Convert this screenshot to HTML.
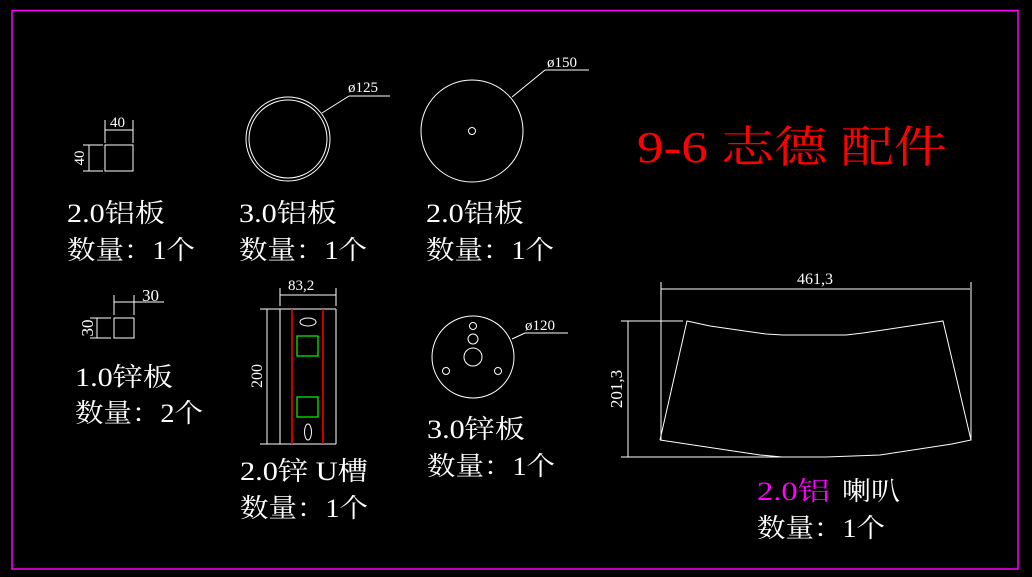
<!DOCTYPE html>
<html><head><meta charset="utf-8"><style>
html,body{margin:0;padding:0;background:#000;}
svg{display:block}
text{font-family:"Liberation Serif","Noto Serif CJK SC",serif;fill:#fff}
</style></head><body>
<svg width="1032" height="577" viewBox="0 0 1032 577" xmlns="http://www.w3.org/2000/svg">
<rect x="0" y="0" width="1032" height="577" fill="#000"/>
<rect x="12" y="10.5" width="1006" height="558.5" fill="none" stroke="#ff00ff" stroke-width="1.5"/>
<g stroke="#fff" stroke-width="1" fill="none">
<!-- box 40 -->
<rect x="105" y="145" width="28" height="26"/>
<line x1="105" y1="120" x2="105" y2="143"/><line x1="133" y1="120" x2="133" y2="143"/>
<line x1="105" y1="130" x2="133" y2="130"/>
<line x1="83" y1="145" x2="103" y2="145"/><line x1="83" y1="171" x2="103" y2="171"/>
<line x1="89" y1="145" x2="89" y2="171"/>
<!-- circle 125 -->
<circle cx="288" cy="139" r="42"/><circle cx="288" cy="139" r="39"/>
<line x1="322" y1="113" x2="349" y2="96"/><line x1="349" y1="96" x2="390" y2="96"/>
<!-- circle 150 -->
<circle cx="472" cy="131" r="51"/><circle cx="472" cy="131" r="3.5"/>
<line x1="512" y1="97" x2="545" y2="70"/><line x1="545" y1="70" x2="589" y2="70"/>
<!-- box 30 -->
<rect x="114" y="318" width="20" height="20"/>
<line x1="114" y1="295" x2="114" y2="315"/><line x1="134" y1="295" x2="134" y2="315"/>
<line x1="114" y1="302" x2="164" y2="302"/>
<line x1="90" y1="318" x2="111" y2="318"/><line x1="90" y1="338" x2="111" y2="338"/>
<line x1="97" y1="318" x2="97" y2="338"/>
<!-- U channel -->
<line x1="260" y1="309" x2="336" y2="309"/><line x1="260" y1="444" x2="336" y2="444"/>
<line x1="280" y1="309" x2="280" y2="444"/><line x1="336" y1="309" x2="336" y2="444"/>
<line x1="267" y1="309" x2="267" y2="444"/>
<line x1="280" y1="288" x2="280" y2="306"/><line x1="336" y1="288" x2="336" y2="306"/>
<line x1="280" y1="295" x2="336" y2="295"/>
<ellipse cx="308" cy="322" rx="8" ry="4"/>
<ellipse cx="308" cy="432" rx="3.5" ry="8"/>
<!-- plate 120 -->
<circle cx="473" cy="357" r="41"/>
<circle cx="473" cy="326" r="3.5"/><circle cx="473" cy="339" r="5"/><circle cx="473" cy="357" r="9"/>
<circle cx="446" cy="371" r="3.5"/><circle cx="498" cy="371" r="3.5"/>
<line x1="512" y1="339" x2="525" y2="333"/><line x1="525" y1="333" x2="568" y2="333"/>
<!-- horn -->
<line x1="661" y1="289" x2="970" y2="289"/>
<line x1="661" y1="282" x2="661" y2="440"/><line x1="971" y1="282" x2="971" y2="440"/>
<polyline points="660,440 687,321 710,326 766,334 783,335 846,335 863,333 943,321 971,440 952,444 880,455 826,457 782,457 760,455 660,440"/>
<line x1="628" y1="321" x2="628" y2="457"/>
<line x1="621" y1="321" x2="683" y2="321"/><line x1="621" y1="457" x2="826" y2="457"/>
</g>
<g stroke="#ff0000" stroke-width="1.5">
<line x1="292" y1="309" x2="292" y2="444"/><line x1="323" y1="309" x2="323" y2="444"/>
</g>
<g stroke="#00ff00" stroke-width="1.2" fill="none">
<rect x="297" y="336" width="21" height="20"/><rect x="297" y="397" width="21" height="20"/>
</g>
<!-- small dim text -->
<g font-size="15">
<text x="110" y="127">40</text>
<text x="0" y="0" transform="translate(84,158) rotate(-90)" text-anchor="middle">40</text>
<text x="348" y="92">ø125</text>
<text x="547" y="67">ø150</text>
<text x="142" y="301" font-size="17">30</text>
<text x="0" y="0" transform="translate(93,328) rotate(-90)" text-anchor="middle" font-size="17">30</text>
<text x="288" y="290">83,2</text>
<text x="0" y="0" transform="translate(262,376) rotate(-90)" text-anchor="middle" font-size="16">200</text>
<text x="525" y="330">ø120</text>
<text x="815" y="284" text-anchor="middle" font-size="16">461,3</text>
<text x="0" y="0" transform="translate(622,389) rotate(-90)" text-anchor="middle" font-size="17">201,3</text>
</g>
<!-- title -->
<text x="637" y="162" font-size="44" fill="#ff0000" style="fill:#ff0000" textLength="310" lengthAdjust="spacingAndGlyphs">9-6 志德 配件</text>
<!-- labels -->
<g font-size="26">
<text x="67" y="222" textLength="98" lengthAdjust="spacingAndGlyphs">2.0铝板</text>
<text x="67" y="259" textLength="128" lengthAdjust="spacingAndGlyphs">数量：1个</text>
<text x="239" y="222" textLength="98" lengthAdjust="spacingAndGlyphs">3.0铝板</text>
<text x="239" y="259" textLength="128" lengthAdjust="spacingAndGlyphs">数量：1个</text>
<text x="426" y="222" textLength="98" lengthAdjust="spacingAndGlyphs">2.0铝板</text>
<text x="426" y="259" textLength="128" lengthAdjust="spacingAndGlyphs">数量：1个</text>
<text x="75" y="386" textLength="98" lengthAdjust="spacingAndGlyphs">1.0锌板</text>
<text x="75" y="422" textLength="128" lengthAdjust="spacingAndGlyphs">数量：2个</text>
<text x="240" y="480" textLength="128" lengthAdjust="spacingAndGlyphs">2.0锌 U槽</text>
<text x="240" y="517" textLength="128" lengthAdjust="spacingAndGlyphs">数量：1个</text>
<text x="427" y="438" textLength="98" lengthAdjust="spacingAndGlyphs">3.0锌板</text>
<text x="427" y="475" textLength="128" lengthAdjust="spacingAndGlyphs">数量：1个</text>
<text x="757" y="500" style="fill:#ff00ff" textLength="73" lengthAdjust="spacingAndGlyphs">2.0铝</text>
<text x="842" y="500" textLength="58" lengthAdjust="spacingAndGlyphs">喇叭</text>
<text x="757" y="537" textLength="128" lengthAdjust="spacingAndGlyphs">数量：1个</text>
</g>
</svg>
</body></html>
